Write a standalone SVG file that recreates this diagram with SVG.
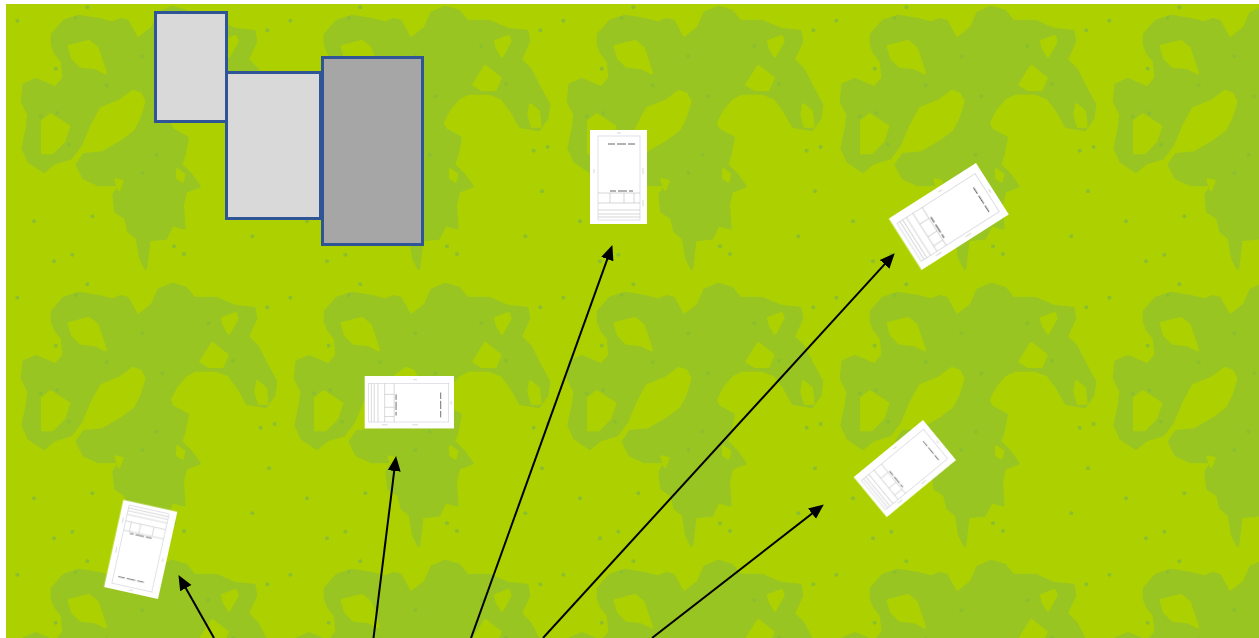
<svg xmlns="http://www.w3.org/2000/svg" width="1259" height="638" viewBox="0 0 1259 638">
<style>
.blob{fill:#99c524;stroke:#99c524;stroke-width:10;stroke-linejoin:round}
.hole{fill:#add100;stroke:#add100;stroke-width:8;stroke-linejoin:round}
.box{stroke:#2f5597;stroke-width:3}
.pg{fill:#fff}
.fr{fill:none;stroke:#c9ccd6;stroke-width:.6}
.ln{fill:none;stroke:#bdbdbd;stroke-width:.6}
.dk{fill:none;stroke:#666;stroke-width:1}
.arrow{fill:none;stroke:#000;stroke-width:2;marker-end:url(#head)}
</style>
<defs>
<filter id="soft" x="-5%" y="-5%" width="110%" height="110%"><feGaussianBlur stdDeviation="1.200"/></filter>
<filter id="soft2" x="-5%" y="-5%" width="110%" height="110%"><feGaussianBlur stdDeviation=".4"/></filter>
<marker id="head" markerUnits="userSpaceOnUse" markerWidth="17" markerHeight="15" refX="8" refY="7.500" orient="auto" viewBox="0 0 17 15"><path d="M0,1 L15,7.500 L0,14 z" fill="#000"/></marker>
<pattern id="tile" patternUnits="userSpaceOnUse" x="0" y="0" width="273" height="277" patternTransform="translate(6,4)">
<rect width="273" height="277" fill="#add100"/>
<g transform="translate(3,-6) scale(.3333)" filter="url(#soft)">
<polygon class="blob" points="130,110 165,70 210,55 270,65 310,75 335,65 355,70 385,125 405,110 430,90 450,45 490,28 530,40 555,70 620,70 680,95 735,100 740,130 715,185 745,215 770,265 800,320 795,360 770,395 745,390 715,385 690,340 660,300 620,285 560,285 530,300 500,335 480,375 490,395 535,420 525,470 515,500 545,530 570,565 530,580 520,620 525,690 490,680 470,720 420,725 410,810 395,780 385,720 360,700 350,660 320,640 315,590 335,560 270,560 225,540 205,500 225,470 280,465 340,430 380,400 400,360 415,310 400,280 370,270 330,300 270,325 240,380 215,440 185,480 135,495 105,520 60,490 42,450 55,390 60,350 40,310 45,260 80,245 140,270 165,240 160,190 140,165 130,140"/>
<polygon class="hole" points="180,145 240,130 265,150 290,225 260,210 215,205 190,180"/>
<polygon class="hole" points="100,370 125,350 180,385 165,430 130,465 100,465"/>
<polygon class="hole" points="575,260 610,205 655,240 640,275 600,275"/>
<polygon class="hole" points="640,130 680,115 685,130 660,175 645,150"/>
<polygon class="hole" points="745,320 770,340 775,385 750,385 740,350"/>
<polygon class="hole" points="505,515 525,530 520,550 505,540"/>
<polygon class="hole" points="320,545 340,550 330,575"/>
<g fill="#8cbf2e"><circle cx="25" cy="68" r="6"/><circle cx="200" cy="60" r="6"/><circle cx="235" cy="28" r="6"/><circle cx="140" cy="212" r="6"/><circle cx="293" cy="262" r="6"/><circle cx="400" cy="175" r="6"/><circle cx="598" cy="145" r="6"/><circle cx="460" cy="295" r="6"/><circle cx="95" cy="355" r="6"/><circle cx="145" cy="345" r="6"/><circle cx="180" cy="440" r="6"/><circle cx="443" cy="470" r="6"/><circle cx="400" cy="525" r="6"/><circle cx="75" cy="670" r="6"/><circle cx="250" cy="655" r="6"/><circle cx="190" cy="770" r="6"/><circle cx="135" cy="790" r="6"/><circle cx="495" cy="745" r="6"/><circle cx="525" cy="768" r="6"/><circle cx="730" cy="715" r="6"/><circle cx="780" cy="580" r="6"/><circle cx="755" cy="458" r="6"/><circle cx="797" cy="447" r="6"/><circle cx="775" cy="97" r="6"/><circle cx="672" cy="258" r="6"/></g>
</g>
</pattern>
<g id="page" filter="url(#soft2)">
<rect class="pg" width="57" height="94"/>
<rect class="fr" x="8" y="6" width="42" height="84"/>
<path class="dk" d="M18,14H25M27,14H36M38,14H45M20,61H26M28,61H37M39,61H43"/>
<path class="ln" d="M8,63H50M8,73H50M8,80H50M8,84H50M8,87H50M20,63V73M34,63V73M44,63V73M53,38V44M53,70V76M4,39V43M27,3H31"/>
</g>
</defs>
<rect width="1259" height="638" fill="#fff"/>
<rect id="background" x="6" y="4" width="1253" height="634" fill="url(#tile)"/>
<g id="box-1"><rect class="box" x="155.500" y="12.500" width="71" height="109" fill="#d9d9d9"/></g>
<g id="box-2"><rect class="box" x="226.500" y="72.500" width="94" height="146" fill="#d9d9d9"/></g>
<g id="box-3"><rect class="box" x="322.500" y="57.500" width="100" height="187" fill="#a6a6a6"/></g>
<g id="doc-1"><use href="#page" transform="translate(158,599) rotate(192.500) scale(.97,.95)"/></g>
<g id="doc-2"><use href="#page" transform="translate(454,376) rotate(90) scale(.92,.95)"/></g>
<g id="doc-3"><use href="#page" transform="translate(590,130)"/></g>
<g id="doc-4"><use href="#page" transform="translate(976,163) rotate(57.500) scale(1.07,1.1)"/></g>
<g id="doc-5"><use href="#page" transform="translate(923,420) rotate(50.500) scale(.91,.955)"/></g>
<g id="connectors">
<path class="arrow" d="M214,638L181.900,581.200"/>
<path class="arrow" d="M373.500,638L395.200,463"/>
<path class="arrow" d="M471,638L610,251.600"/>
<path class="arrow" d="M543,638L890,258.400"/>
<path class="arrow" d="M652,638L818.300,508.700"/>
</g>
</svg>
